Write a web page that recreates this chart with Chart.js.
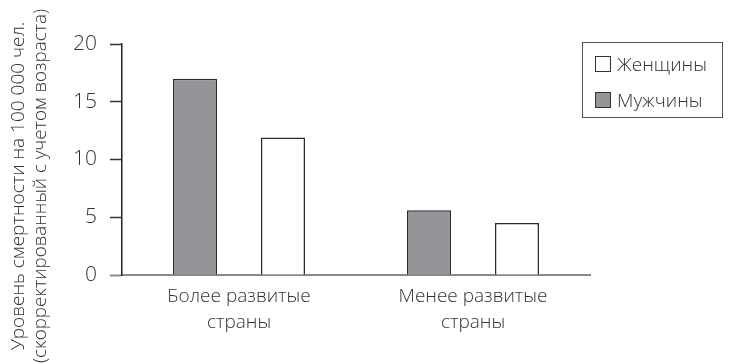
<!DOCTYPE html>
<html>
<head>
<meta charset="utf-8">
<script src="https://cdn.jsdelivr.net/npm/chart.js@4/dist/chart.umd.min.js"></script>
<style>
html, body { margin: 0; padding: 0; background: #fff; }
#wrap { position: relative; width: 729px; height: 363px; }
#legend { position: absolute; left: 582px; top: 42px; width: 139px; height: 74px; border: 1px solid #555;
  font-family: 'Open Sans', sans-serif; font-weight: 300; font-size: 19px; color: #333; }
.item { position: absolute; left: 12px; height: 24px; display: flex; align-items: center; white-space: nowrap; }
.sw { width: 14px; height: 14px; border: 1px solid #333; margin-right: 6px; box-sizing: content-box; }
</style>
</head>
<body>
<div id="wrap">
  <canvas id="c" width="729" height="363"></canvas>
  <div id="legend"></div>
</div>
<script>
// ---- data ----
const categories = [['Более развитые', 'страны'], ['Менее развитые', 'страны']];
const seriesNames = ['Мужчины', 'Женщины'];
const menValues = [17, 5.6];
const womenValues = [11.9, 4.5];
const yTickValues = [0, 5, 10, 15, 20];
const yTitle = ['Уровень смертности на 100 000 чел.', '(скорректированный с учетом возраста)'];

// ---- styles ----
const FAMILY = "'Open Sans', sans-serif";
const TEXT = '#333';
const AXIS_GRAY = '#8a8a8a';

const chart = new Chart(document.getElementById('c'), {
  type: 'bar',
  data: {
    labels: categories,
    datasets: [
      { label: seriesNames[0], data: menValues, backgroundColor: '#939598', borderColor: '#2b2b2b', borderWidth: 1.5 },
      { label: seriesNames[1], data: womenValues, backgroundColor: '#ffffff', borderColor: '#2b2b2b', borderWidth: 1.5 }
    ]
  },
  options: {
    responsive: false,
    animation: false,
    categoryPercentage: 0.752,
    barPercentage: 0.5,
    layout: { padding: { top: 9, right: 139, bottom: 0, left: 0 } },
    plugins: {
      legend: { display: false },
      tooltip: { enabled: false },
      title: {
        display: true, position: 'left', text: yTitle, color: TEXT,
        font: { family: FAMILY, size: 19, weight: 300, lineHeight: '22px' },
        padding: { top: 8, bottom: 0 }
      }
    },
    scales: {
      x: {
        grid: { display: false, drawTicks: false },
        border: { display: true, color: AXIS_GRAY, width: 2 },
        ticks: { color: TEXT, padding: 9, font: { family: FAMILY, size: 19, weight: 300, lineHeight: '26px' } },
        afterFit(s) { s.height = 88; }
      },
      y: {
        min: 0, max: 20,
        afterBuildTicks(s) { s.ticks = yTickValues.map(v => ({ value: v })); },
        ticks: { color: TEXT, padding: 13, font: { family: FAMILY, size: 21, weight: 300 } },
        grid: {
          drawOnChartArea: false, drawTicks: true, tickLength: 12,
          tickColor: c => (c.tick && c.tick.value === 0 ? AXIS_GRAY : '#333'),
          tickWidth: c => (c.tick && c.tick.value === 0 ? 2 : 1.5)
        },
        border: { color: '#222', width: 1.5 },
        afterFit(s) { s.width = 70; s.paddingTop = 44; }
      }
    }
  }
});

// HTML legend built from the chart's own legend items (listed in reverse order)
const items = chart.options.plugins.legend.labels.generateLabels(chart).slice().reverse();
const legendEl = document.getElementById('legend');
items.forEach((it, i) => {
  const row = document.createElement('div');
  row.className = 'item';
  row.style.top = (9 + i * 36) + 'px';
  const sw = document.createElement('span');
  sw.className = 'sw';
  sw.style.background = it.fillStyle;
  const tx = document.createElement('span');
  tx.textContent = it.text;
  row.appendChild(sw);
  row.appendChild(tx);
  legendEl.appendChild(row);
});
</script>
</body>
</html>
